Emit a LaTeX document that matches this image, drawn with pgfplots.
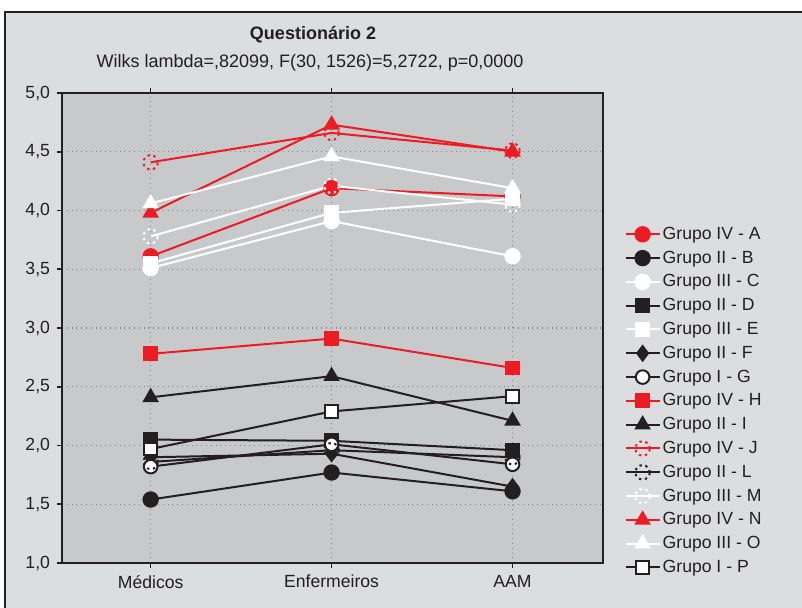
\documentclass[border=0pt]{standalone}
\usepackage{fontspec}
\setmainfont{Liberation Sans}
\usepackage{pgfplots}
\pgfplotsset{compat=1.18}
\definecolor{outerbg}{RGB}{220,221,222}
\definecolor{plotbg}{RGB}{200,201,203}
\definecolor{gred}{RGB}{237,28,36}
\definecolor{gblack}{RGB}{35,31,32}
\definecolor{gridc}{RGB}{135,135,135}

\begin{document}
\begin{tikzpicture}[x=0.5pt,y=0.5pt]
\useasboundingbox (0,0) rectangle (802,608);
\fill[white] (0,0) rectangle (802,608);
\fill[outerbg] (5,0) rectangle (802,596);
\draw[gblack, line width=1pt] (5,0) -- (5,596) -- (802,596);
\node[font=\fontsize{9}{10}\selectfont\bfseries, text=gblack] at (313,573) {Questionário 2};
\node[font=\fontsize{9}{10}\selectfont, text=gblack] at (310,545) {Wilks lambda=,82099, F(30, 1526)=5,2722, p=0,0000};
\begin{axis}[
  at={(31pt,22.5pt)}, anchor=south west,
  scale only axis, width=270.5pt, height=235pt,
  xmin=-0.49, xmax=2.5, ymin=1, ymax=5,
  xtick={0,1,2}, xticklabels={Médicos,Enfermeiros,AAM},
  ytick={1,1.5,2,2.5,3,3.5,4,4.5,5},
  ytick pos=left,
  tick align=outside,
  major tick length=2.5pt,
  tick style={gblack, line width=0.8pt},
  axis background/.style={fill=plotbg},
  axis line style={gblack, line width=1pt},
  grid=major,
  major grid style={gridc, dotted, line width=0.6pt},
  ticklabel style={font=\fontsize{8.8}{10}\selectfont, text=gblack},
  /pgf/number format/assume math mode=true,
  yticklabel style={/pgf/number format/.cd, use comma, fixed, fixed zerofill, precision=1},
  every axis plot/.append style={line width=1pt},
  legend cell align=left,
  legend style={draw=none, fill=none, at={(1.028,0.73)}, anchor=north west,
    font=\fontsize{8.8}{10}\selectfont, text=gblack,
    row sep=1.9pt,
    nodes={inner sep=1pt, text height=6.5pt, text depth=1.5pt}},
]
\addplot[gred, mark=*, mark size=3.6pt, mark options={fill=gred}]
  coordinates {(0,3.61) (1,4.19) (2,4.12)};
\addlegendentry{Grupo IV - A}
\addplot[gblack, mark=*, mark size=3.6pt, mark options={fill=gblack}]
  coordinates {(0,1.54) (1,1.77) (2,1.61)};
\addlegendentry{Grupo II - B}
\addplot[white, mark=*, mark size=3.6pt, mark options={fill=white}]
  coordinates {(0,3.51) (1,3.91) (2,3.61)};
\addlegendentry{Grupo III - C}
\addplot[gblack, mark=square*, mark size=3.2pt, mark options={fill=gblack}]
  coordinates {(0,2.05) (1,2.04) (2,1.96)};
\addlegendentry{Grupo II - D}
\addplot[white, mark=square*, mark size=3.2pt, mark options={fill=white}]
  coordinates {(0,3.55) (1,3.98) (2,4.10)};
\addlegendentry{Grupo III - E}
\addplot[gblack, mark=diamond*, mark size=3.6pt, mark options={fill=gblack}]
  coordinates {(0,1.90) (1,1.93) (2,1.65)};
\addlegendentry{Grupo II - F}
\addplot[gblack, mark=*, mark size=3.4pt, mark options={fill=white}]
  coordinates {(0,1.82) (1,2.01) (2,1.84)};
\addlegendentry{Grupo I - G}
\addplot[gred, mark=square*, mark size=3.2pt, mark options={fill=gred}]
  coordinates {(0,2.78) (1,2.91) (2,2.66)};
\addlegendentry{Grupo IV - H}
\addplot[gblack, mark=triangle*, mark size=3.8pt, mark options={fill=gblack}]
  coordinates {(0,2.41) (1,2.59) (2,2.21)};
\addlegendentry{Grupo II - I}
\addplot[gred, mark=o, mark size=3.6pt, mark options={dash pattern=on 1.2pt off 1.8pt}]
  coordinates {(0,4.41) (1,4.66) (2,4.51)};
\addlegendentry{Grupo IV - J}
\addplot[gblack, mark=o, mark size=3.6pt, mark options={dash pattern=on 1.2pt off 1.8pt}]
  coordinates {(0,1.86) (1,1.96) (2,1.90)};
\addlegendentry{Grupo II - L}
\addplot[white, mark=o, mark size=3.6pt, mark options={dash pattern=on 1.2pt off 1.8pt}]
  coordinates {(0,3.78) (1,4.21) (2,4.05)};
\addlegendentry{Grupo III - M}
\addplot[gred, mark=triangle*, mark size=3.8pt, mark options={fill=gred}]
  coordinates {(0,3.98) (1,4.73) (2,4.50)};
\addlegendentry{Grupo IV - N}
\addplot[white, mark=triangle*, mark size=3.8pt, mark options={fill=white}]
  coordinates {(0,4.06) (1,4.46) (2,4.19)};
\addlegendentry{Grupo III - O}
\addplot[gblack, mark=square*, mark size=3.2pt, mark options={fill=white}]
  coordinates {(0,1.97) (1,2.29) (2,2.42)};
\addlegendentry{Grupo I - P}
\end{axis}
\end{tikzpicture}
\end{document}
